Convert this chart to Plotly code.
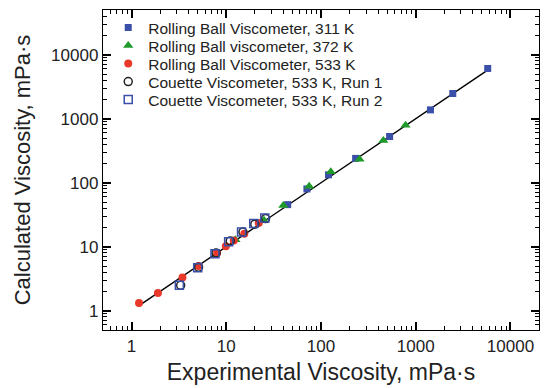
import plotly.graph_objects as go
import numpy as np

# Rolling Ball Viscometer, 311 K (filled blue squares)
rb311_x = [44.5, 71, 120, 232, 530, 1430, 2460, 5750]
rb311_y = [45.5, 80, 133, 240, 528, 1375, 2480, 6100]

# Rolling Ball viscometer, 372 K (green triangles)
rb372_x = [12.5, 25, 40, 75, 127, 255, 455, 780]
rb372_y = [12.8, 26, 44, 88, 148, 232, 455, 790]

# Rolling Ball Viscometer, 533 K (red circles)
rb533_x = [1.2, 1.9, 3.45, 5.1, 8.0, 9.9, 12.0, 15.5, 22]
rb533_y = [1.32, 1.9, 3.3, 5.0, 8.0, 10.2, 12.5, 16, 23.5]

# Couette Viscometer, 533 K, Run 1 (open black circles)
cv1_x = [3.3, 5.1, 7.8, 11, 15, 20, 26]
cv1_y = [2.5, 4.8, 8.0, 12.3, 17, 22.5, 27.5]

# Couette Viscometer, 533 K, Run 2 (open blue squares)
cv2_x = [3.2, 5.0, 7.6, 10.6, 14.5, 19.5, 25.5]
cv2_y = [2.5, 4.7, 7.8, 12.0, 17, 23, 28]

# parity line
parity = [1.2, 6000]

FONT = "Liberation Sans, Arial"
TXT = "#222222"
TICK = "black"

X_RANGE = [np.log10(0.5), np.log10(20000)]
Y_RANGE = [np.log10(0.5), np.log10(50000)]

fig = go.Figure()
fig.add_trace(go.Scatter(x=parity, y=parity, mode="lines",
                         line=dict(color="black", width=1.4), showlegend=False))
series = [
    (rb311_x, rb311_y, "Rolling Ball Viscometer, 311 K",
     dict(symbol="square", size=7, color="#3a50a8")),
    (rb372_x, rb372_y, "Rolling Ball viscometer, 372 K",
     dict(symbol="triangle-up", size=9, color="#1f9a2a")),
    (rb533_x, rb533_y, "Rolling Ball Viscometer, 533 K",
     dict(symbol="circle", size=8, color="#e8392b")),
    (cv1_x, cv1_y, "Couette Viscometer, 533 K, Run 1",
     dict(symbol="circle-open", size=8, color="#222222", line=dict(width=1.5))),
    (cv2_x, cv2_y, "Couette Viscometer, 533 K, Run 2",
     dict(symbol="square-open", size=8, color="#3a50a8", line=dict(width=1.5))),
]
legend_names = ["legend", "legend2", "legend3", "legend4", "legend5"]
for (sx, sy, name, mk), lg in zip(series, legend_names):
    fig.add_trace(go.Scatter(x=sx, y=sy, mode="markers", name=name,
                             marker=mk, legend=lg))

axis_common = dict(
    type="log", showline=True, linecolor="black", linewidth=1.4, mirror="ticks",
    dtick=1, tickformat="d",
    ticks="inside", ticklen=8, tickwidth=1.5, tickcolor=TICK,
    showgrid=False, zeroline=False,
    tickfont=dict(family=FONT, size=17, color=TXT),
    minor=dict(ticks="inside", ticklen=4, tickwidth=1.2, tickcolor=TICK, dtick="D1"),
)

fig.update_layout(
    xaxis=dict(**axis_common, range=X_RANGE,
               title=dict(text="Experimental Viscosity, mPa·s",
                          font=dict(family=FONT, size=23, color=TXT), standoff=9)),
    yaxis=dict(**axis_common, range=Y_RANGE,
               title=dict(text="Calculated Viscosity, mPa·s",
                          font=dict(family=FONT, size=22, color=TXT), standoff=14)),
)

legend_rows = [28, 46, 64, 82, 100]   # pixel row centres
plot_top, plot_h = 10, 320
layout_legends = {}
for lg, yc in zip(legend_names, legend_rows):
    layout_legends[lg] = dict(
        x=0.012, y=(plot_top + plot_h - yc) / plot_h, xanchor="left", yanchor="middle",
        bgcolor="rgba(0,0,0,0)",
        font=dict(family=FONT, size=15.5, color=TXT), itemwidth=30)

fig.update_layout(
    width=545, height=388,
    margin=dict(l=103, r=6, t=10, b=58),
    paper_bgcolor="white", plot_bgcolor="white",
    **layout_legends,
)

fig.write_html("out.html")
